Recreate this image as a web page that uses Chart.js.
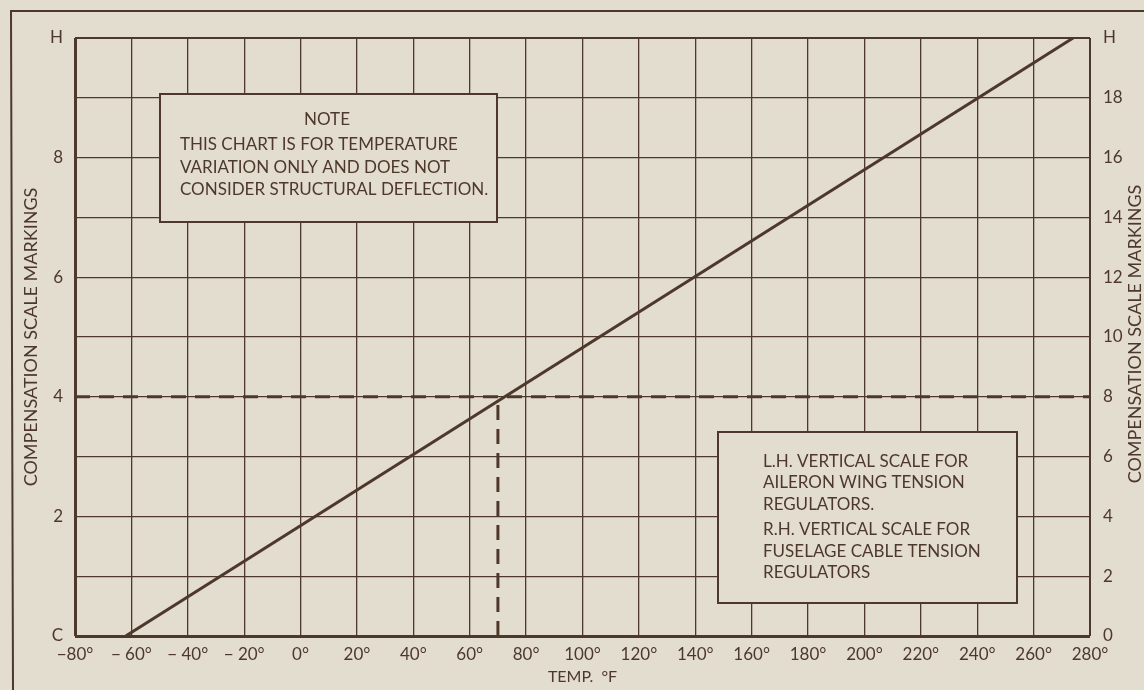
<!DOCTYPE html>
<html>
<head>
<meta charset="utf-8">
<script src="https://cdn.jsdelivr.net/npm/chart.js@4.4.1/dist/chart.umd.min.js"></script>
<style>
  body { margin: 0; background: #e3ddcf; }
  canvas { display: block; }
</style>
</head>
<body>
<canvas id="grafico" width="1144" height="690" style="width:1144px;height:690px"></canvas>
<script>
// valores
const tempTicks = [-80, -60, -40, -20, 0, 20, 40, 60, 80, 100, 120, 140, 160, 180, 200, 220, 240, 260, 280];
const tempLabels = ['−80°', '− 60°', '− 40°', '− 20°', '0°', '20°', '40°', '60°', '80°', '100°', '120°', '140°', '160°', '180°', '200°', '220°', '240°', '260°', '280°'];
const leftTicks = ['C', '', '2', '', '4', '', '6', '', '8', '', 'H'];
const rightTicks = ['0', '2', '4', '6', '8', '10', '12', '14', '16', '18', 'H'];

// linha de compensação
const lineTemps = [-62, 274];
const lineMarks = [0, 10];

// linhas tracejadas de exemplo (70°F -> 4)
const exTemp = 70;
const exMark = 4;

const noteLines = ['THIS CHART IS FOR TEMPERATURE', 'VARIATION ONLY AND DOES NOT', 'CONSIDER STRUCTURAL DEFLECTION.'];
const legendLines = ['L.H. VERTICAL SCALE FOR', 'AILERON WING TENSION', 'REGULATORS.', 'R.H. VERTICAL SCALE FOR', 'FUSELAGE CABLE TENSION', 'REGULATORS'];

const corTinta = '#4e382c';
const corFundo = '#e3ddcf';
const fonte = 'Lato, "Open Sans", sans-serif';

function pontos(xs, ys) {
    return xs.map((x, i) => ({ x: x, y: ys[i] }));
}

// fundo, moldura externa, caixas de texto
const desenhos = {
    id: 'desenhos',
    beforeDraw(chart) {
        const ctx = chart.ctx;
        ctx.save();
        ctx.fillStyle = corFundo;
        ctx.fillRect(0, 0, chart.width, chart.height);
        ctx.strokeStyle = corTinta;
        ctx.lineWidth = 2;
        ctx.beginPath();
        ctx.moveTo(1144, 11);
        ctx.lineTo(11, 11);
        ctx.lineTo(13, 690);
        ctx.stroke();
        ctx.restore();
    },
    beforeDatasetsDraw(chart) {
        const ctx = chart.ctx;
        ctx.save();
        ctx.fillStyle = corFundo;
        ctx.strokeStyle = corTinta;
        ctx.lineWidth = 2;
        // caixa NOTE
        ctx.fillRect(160, 94, 337, 128);
        ctx.strokeRect(160, 94, 337, 128);
        // caixa legenda
        ctx.fillRect(718, 432, 299, 171);
        ctx.strokeRect(718, 432, 299, 171);

        ctx.fillStyle = corTinta;
        ctx.font = '17px ' + fonte;
        ctx.textBaseline = 'middle';
        ctx.textAlign = 'center';
        ctx.fillText('NOTE', 327, 120);
        ctx.textAlign = 'left';
        noteLines.forEach((t, i) => ctx.fillText(t, 180, 145 + i * 22.5));
        const ys = [462, 483, 505, 530, 552, 573];
        legendLines.forEach((t, i) => ctx.fillText(t, 763, ys[i]));
        ctx.restore();
    },
    afterDraw(chart) {
        // título do eixo direito (lido de baixo para cima)
        const ctx = chart.ctx;
        ctx.save();
        ctx.fillStyle = corTinta;
        ctx.font = '18px ' + fonte;
        ctx.textAlign = 'center';
        ctx.textBaseline = 'middle';
        ctx.translate(1135, 334);
        ctx.rotate(-Math.PI / 2);
        ctx.fillText('COMPENSATION SCALE MARKINGS', 0, 0);
        ctx.restore();
    }
};

const ctx = document.getElementById('grafico').getContext('2d');

const myChart = new Chart(ctx, {
    type: 'scatter',
    data: {
        datasets: [{
            data: pontos(lineTemps, lineMarks),
            showLine: true,
            borderColor: corTinta,
            borderWidth: 3,
            pointRadius: 0,
            yAxisID: 'y'
        }, {
            data: pontos([tempTicks[0], tempTicks[tempTicks.length - 1]], [exMark, exMark]),
            showLine: true,
            borderColor: corTinta,
            borderWidth: 3,
            borderDash: [15, 9],
            pointRadius: 0,
            yAxisID: 'y'
        }, {
            data: pontos([exTemp, exTemp], [0, exMark]),
            showLine: true,
            borderColor: corTinta,
            borderWidth: 3,
            borderDash: [15, 9],
            pointRadius: 0,
            yAxisID: 'y'
        }]
    },
    options: {
        responsive: false,
        animation: false,
        layout: { padding: { top: 38, left: 0, right: 0, bottom: 0 } },
        plugins: {
            legend: { display: false },
            tooltip: { enabled: false }
        },
        scales: {
            x: {
                type: 'linear',
                min: -80,
                max: 280,
                afterBuildTicks: (scale) => { scale.ticks = tempTicks.map(v => ({ value: v })); },
                afterFit: (scale) => { scale.height = 54; },
                ticks: {
                    color: corTinta,
                    font: { family: fonte, size: 17 },
                    padding: 8,
                    maxRotation: 0,
                    autoSkip: false,
                    callback: (v) => tempLabels[tempTicks.indexOf(v)]
                },
                grid: {
                    color: corTinta,
                    drawTicks: false,
                    lineWidth: (c) => c.index === 0 ? 3 : (c.index === tempTicks.length - 1 ? 2 : 1.3)
                },
                border: { display: false },
                title: {
                    display: true,
                    text: 'TEMP.  °F',
                    color: corTinta,
                    font: { family: fonte, size: 16 },
                    padding: { top: 0, bottom: 4 }
                }
            },
            y: {
                position: 'left',
                min: 0,
                max: 10,
                afterFit: (scale) => { scale.width = 75; },
                ticks: {
                    stepSize: 1,
                    color: corTinta,
                    font: { family: fonte, size: 17 },
                    padding: 12,
                    callback: (v) => leftTicks[v]
                },
                grid: {
                    color: corTinta,
                    drawTicks: false,
                    lineWidth: (c) => c.index === 0 ? 3 : (c.index === 10 ? 2 : 1.3)
                },
                border: { display: false },
                title: {
                    display: true,
                    text: 'COMPENSATION SCALE MARKINGS',
                    color: corTinta,
                    font: { family: fonte, size: 18 },
                    padding: { top: 20, bottom: 0 }
                }
            },
            y2: {
                position: 'right',
                min: 0,
                max: 20,
                afterFit: (scale) => { scale.width = 54; },
                ticks: {
                    stepSize: 2,
                    color: corTinta,
                    font: { family: fonte, size: 17 },
                    padding: 13,
                    callback: (v) => rightTicks[v / 2]
                },
                grid: { display: false, drawTicks: false },
                border: { display: false }
            }
        }
    },
    plugins: [desenhos]
});
</script>
</body>
</html>
